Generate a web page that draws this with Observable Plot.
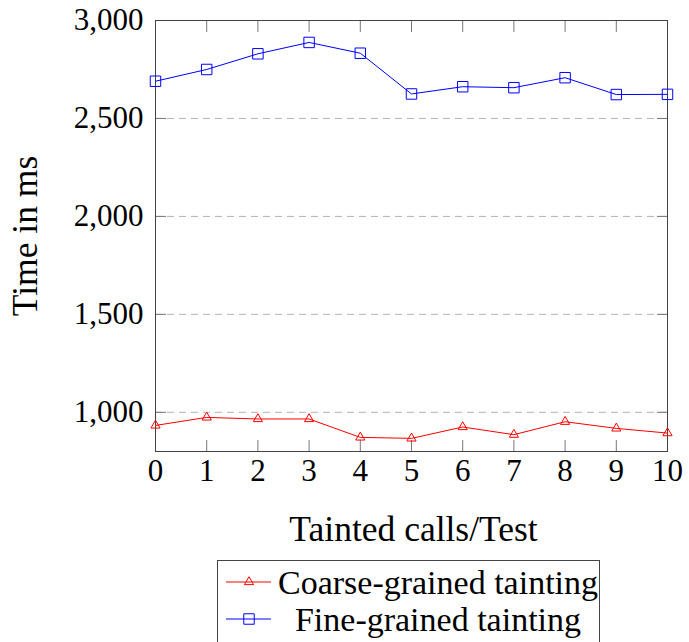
<!DOCTYPE html>
<html>
<head>
<meta charset="utf-8">
<script src="https://cdn.jsdelivr.net/npm/d3@7"></script>
<script src="https://cdn.jsdelivr.net/npm/@observablehq/plot@0.6"></script>
<style>
  html, body { margin: 0; padding: 0; background: white; overflow: hidden; }
  #wrap { position: relative; width: 689px; height: 642px; }
  #legend { position: absolute; left: 217px; top: 560px; width: 383px; height: 100px;
            border: 1px solid #444; background: white; box-sizing: border-box; }
</style>
</head>
<body>
<div id="wrap"><div id="chart"></div><div id="legend"></div></div>
<script>
const calls = [0, 1, 2, 3, 4, 5, 6, 7, 8, 9, 10];
const coarseMs = [933, 974, 966, 966, 872, 867, 925, 886, 952, 918, 894];
const fineMs = [2690, 2750, 2830, 2888, 2833, 2625, 2662, 2657, 2708, 2622, 2623];
const xTicks = [0, 1, 2, 3, 4, 5, 6, 7, 8, 9, 10];
const yTicks = [1000, 1500, 2000, 2500, 3000];
const gridTicks = [1000, 1500, 2000, 2500];
const seriesNames = ["Coarse-grained tainting", "Fine-grained tainting"];
const xLabel = "Tainted calls/Test";
const yLabel = "Time in ms";

const coarse = calls.map((c, i) => ({x: c, y: coarseMs[i]}));
const fine = calls.map((c, i) => ({x: c, y: fineMs[i]}));

const fmt = d3.format(",");
const font = "'Liberation Serif', 'Times New Roman', serif";

const chart = Plot.plot({
  width: 689,
  height: 556,
  marginLeft: 155,
  marginRight: 22,
  marginTop: 20,
  marginBottom: 105,
  style: {fontFamily: font, fontSize: "31px", background: "white", color: "black"},
  x: {domain: [0, 10], label: null},
  y: {domain: [800, 3000], label: null},
  marks: [
    Plot.gridY(gridTicks, {stroke: "#b4b4b4", strokeOpacity: 1, strokeDasharray: "7,5"}),
    Plot.axisX({ticks: xTicks, anchor: "bottom", tickSize: -11, tickFormat: () => "", stroke: "#777", label: null}),
    Plot.axisX({ticks: xTicks, anchor: "top", tickSize: -11, tickFormat: () => "", stroke: "#777", label: null}),
    Plot.axisY({ticks: yTicks, anchor: "left", tickSize: -11, tickFormat: () => "", stroke: "#777", label: null}),
    Plot.axisY({ticks: yTicks, anchor: "right", tickSize: -11, tickFormat: () => "", stroke: "#777", label: null}),
    Plot.axisX({ticks: xTicks, anchor: "bottom", tickSize: 0, tickPadding: 7, tickFormat: d => String(d), fontSize: 31, fill: "black", label: null}),
    Plot.axisY({ticks: yTicks, anchor: "left", tickSize: 0, tickPadding: 12, tickFormat: fmt, fontSize: 31, fill: "black", label: null}),
    Plot.frame({stroke: "#444", strokeWidth: 1}),
    Plot.line(coarse, {x: "x", y: "y", stroke: "#ff0000", strokeWidth: 1}),
    Plot.dot(coarse, {x: "x", y: "y", symbol: "triangle", r: 3.4, stroke: "#ff0000", fill: "none", strokeWidth: 1}),
    Plot.line(fine, {x: "x", y: "y", stroke: "#0000ff", strokeWidth: 1}),
    Plot.dot(fine, {x: "x", y: "y", symbol: "square", r: 5.9, stroke: "#0000ff", fill: "none", strokeWidth: 1}),
    Plot.text([xLabel], {text: d => d, frameAnchor: "bottom", dy: 78, dx: 2, lineAnchor: "middle", textAnchor: "middle", fontSize: 35.5, fill: "black"}),
    Plot.text([yLabel], {text: d => d, frameAnchor: "left", rotate: -90, dx: -130, lineAnchor: "middle", textAnchor: "middle", fontSize: 35.5, fill: "black"})
  ]
});
document.getElementById("chart").appendChild(chart);

// Legend
const colors = ["#ff0000", "#0000ff"];
const symbols = [d3.symbolTriangle, d3.symbolSquare];
const sizes = [Math.PI * 3.4 * 3.4, Math.PI * 5.9 * 5.9];
const lg = d3.select("#legend").append("svg").attr("width", 381).attr("height", 100);
seriesNames.forEach((name, i) => {
  const cy = 21 + i * 37;
  const g = lg.append("g").attr("transform", `translate(0,${cy})`);
  g.append("line").attr("x1", 8).attr("x2", 53).attr("y1", 0).attr("y2", 0)
    .attr("stroke", colors[i]).attr("stroke-width", 1);
  g.append("path").attr("d", d3.symbol(symbols[i], sizes[i])())
    .attr("transform", "translate(31,0)").attr("fill", "none").attr("stroke", colors[i]).attr("stroke-width", 1);
  g.append("text").attr("x", 220).attr("y", 0).attr("dy", "0.35em").attr("text-anchor", "middle")
    .style("font-family", font).style("font-size", "34px").attr("fill", "black").text(name);
});
</script>
</body>
</html>
